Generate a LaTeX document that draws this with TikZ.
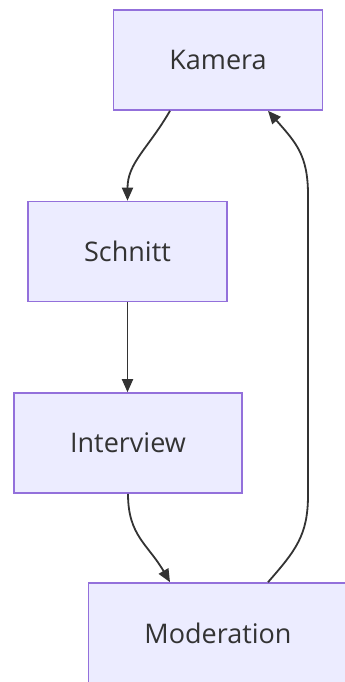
\documentclass[tikz,border=0pt]{standalone}
\usepackage{fontspec}
\setmainfont{Open Sans}
\usepackage{tikz}
\usetikzlibrary{arrows.meta,positioning}
\definecolor{boxfill}{HTML}{ECECFF}
\definecolor{boxline}{HTML}{9370DB}
\definecolor{ink}{HTML}{333333}
\tikzset{
  box/.style={rectangle, draw=boxline, fill=boxfill, line width=1.6pt, minimum height=100pt, inner xsep=56pt, font=\fontsize{27}{32}\selectfont, text=ink},
  arr/.style={-{Triangle[length=13pt, width=11pt]}, draw=ink, line width=1.8pt}
}
\begin{document}
\begin{tikzpicture}
\useasboundingbox (0,0) rectangle (345pt,-682pt);
\node[box] (kamera) at (218pt,-60pt) {Kamera};
\node[box] (schnitt) at (127.5pt,-251.5pt) {Schnitt};
\node[box] (interview) at (128pt,-443pt) {Interview};
\node[box] (moderation) at (218pt,-633pt) {Moderation};
\coordinate (turnlo) at (308pt,-495pt);
\coordinate (turnhi) at (308pt,-195pt);

\draw[arr] ([xshift=-48pt]kamera.south) .. controls +(-22pt,-38pt) and +(0pt,38pt) .. (schnitt.north);
\draw[arr] (schnitt.south) -- (schnitt.south |- interview.north);
\draw[arr] (interview.south) .. controls +(0pt,-42pt) and +(-22pt,38pt) .. ([xshift=-48pt]moderation.north);
\draw[arr] ([xshift=50pt]moderation.north) .. controls +(28pt,32pt) and +(0pt,-40pt) .. (turnlo) -- (turnhi) .. controls +(0pt,40pt) and +(28pt,-32pt) .. ([xshift=50pt]kamera.south);
\end{tikzpicture}
\end{document}
